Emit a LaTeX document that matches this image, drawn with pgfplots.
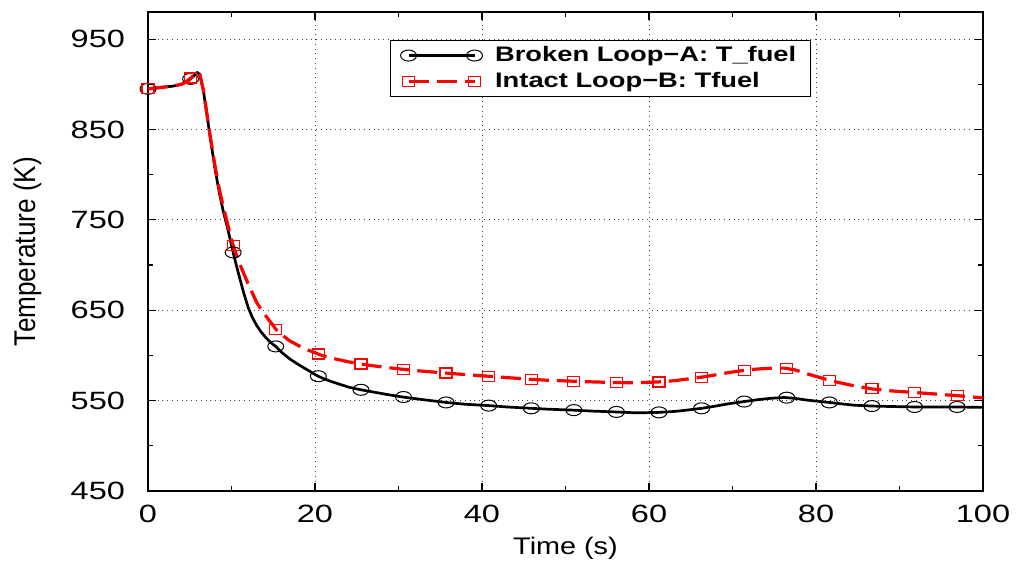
\documentclass[border=0pt]{standalone}
\usepackage{graphicx}
\usepackage{fontspec}
\setmainfont{Liberation Sans}
\usepackage{pgfplots}
\usepackage{pgfplotstable}
\pgfplotsset{compat=1.18}
\pgfplotsset{endmarks/.style={legend image code/.code={\draw[##1] plot coordinates {(0pt,0pt) (33pt,0pt)}; \path (40.5pt,0pt);}}}

\pgfplotstableread{
x y
0 895
1 896
2 897
3 898
4 900
4.5 902
5 905
5.5 909.5
5.9 913
6.2 911
6.6 895
7 870
7.5 838
8 808
8.5 782
9 760
9.5 742
10 722
10.2 714
10.6 699
11 685
11.5 668
12 653
12.5 642
13 633.5
13.5 626.5
14 621
14.5 616
15 612
15.3 610
16 603.5
17 596
18 590
19 584.5
20 579
20.4 577
21 574.5
22 571
23 568
24 565
25.5 562
27 559.5
28.5 557
30.5 554
33 551
35.7 548
38 546
40.8 544.5
43 543
45.9 541.5
48 540.5
50.9 539.5
53 538.5
56 537.5
58.5 536.5
61.2 537
63 538
64.5 539.5
66.3 541.5
68 544
69.5 546.5
71.4 549
73 551
74.5 552.5
76.2 553.5
77.5 552.5
79 550.5
80.5 549
81.6 548
83 546.5
84.5 545
86.7 544
89 543.5
91.8 543
94 543
96.8 543
100 542.5
}\blackline

\pgfplotstableread{
x y
0 895
1 896
2 897
3 898
4 900
4.5 902.5
5 906
5.5 910
5.9 913
6.2 911
6.6 895
7 871
7.5 840
8 811
8.5 786
9 765
9.5 747
10 728
10.2 722
10.6 711
11 701
11.5 690
12 679
12.5 669
13 659
13.6 650
14 645
14.5 639
15 633
15.3 629
16 623
17 616
18 611
19 606.5
20 603
20.4 601.5
21 599.5
22 597
23 595
24 593
25.5 590.5
27 588.5
28.5 586.8
30.6 584.6
33 582.5
35.7 580.5
38 578.8
40.8 577
43 575.5
45.9 573.5
48 572.5
50.9 571.5
53 570.8
56 570
58.5 569.8
61.2 570.7
63 572
64.5 573.8
66.3 576
68 578.5
69.5 581
71.4 583.5
73 585
74.5 585.8
76.2 586
77.5 584
79 579.5
80.5 575.5
81.6 572.5
83 569.5
84.5 566.5
86.7 563
89 560.8
91.8 559
94 557.5
96.8 555.6
100 553
}\redline

\pgfplotstableread{
x y
0 895
5.1 906
10.2 714
15.3 610
20.4 577
25.5 562
30.6 554
35.7 548
40.8 544.5
45.9 541.5
51 539.5
56.1 537.5
61.2 537
66.3 541.5
71.4 549
76.5 553.3
81.6 548
86.7 544
91.8 543
96.9 543
}\blackmarks

\pgfplotstableread{
x y
0 895
5.1 907
10.2 722
15.3 629
20.4 601.5
25.5 590.5
30.6 584.6
35.7 580.5
40.8 577
45.9 573.5
51 571.5
56.1 570
61.2 570.7
66.3 576
71.4 583.5
76.5 586
81.6 572.5
86.7 563
91.8 559
96.9 555.6
}\redmarks

\begin{document}
\begin{tikzpicture}
\path[use as bounding box] (-74pt,-36.5pt) rectangle (436pt,245.5pt);
\begin{axis}[
  at={(0,0)}, anchor=south west,
  scale only axis,
  width=417.5pt, height=239.5pt,
  xmin=0, xmax=100, ymin=450, ymax=980,
  xtick={0,20,...,100}, minor xtick={10,30,...,90},
  ytick={450,550,...,950}, minor ytick={500,600,...,900},
  tick align=inside,
  major tick length=4pt, minor tick length=2.5pt,
  xtick pos=both, ytick pos=both,
  grid=major,
  major grid style={dotted, black!75, line width=0.5pt},
  axis line style={line width=0.8pt},
  every tick/.style={black, line width=0.6pt},
  /pgf/number format/assume math mode=true,
  tick label style={font=\fontsize{12.5}{14}\selectfont},
  xticklabel={\scalebox{1.3}[1]{\pgfmathprintnumber{\tick}}},
  yticklabel={\scalebox{1.3}[1]{\pgfmathprintnumber{\tick}}},
  xticklabel style={yshift=-3.5pt},
  yticklabel style={xshift=-8pt},
  xlabel={\scalebox{1.2}[1]{Time (s)}},
  ylabel={\scalebox{1.09}[1.25]{Temperature (K)}},
  label style={font=\fontsize{12}{14}\selectfont},
  xlabel style={at={(rel axis cs:0.5,-0.119)}, anchor=center},
  ylabel style={at={(rel axis cs:-0.1437,0.5)}, anchor=center},
  clip=false,
  legend style={at={(rel axis cs:0.2898,0.9415)}, anchor=north west,
    draw=black, line width=0.6pt, fill=white,
    font=\bfseries\fontsize{10.5}{12}\selectfont,
    inner xsep=5pt, inner ysep=1pt, row sep=0pt,
    nodes={inner ysep=1.9pt},
    cells={anchor=west}},
  legend cell align=left,
]
\addplot[black, line width=1.35pt, forget plot] table[x=x,y=y] {\blackline};
\addplot[black, only marks, mark=o, mark size=2.75pt, mark options={solid, line width=0.5pt, xscale=1.45}, forget plot] table[x=x,y=y] {\blackmarks};
\addplot[red, line width=1.6pt, dash pattern=on 10pt off 4pt, forget plot] table[x=x,y=y] {\redline};
\addplot[red, only marks, mark=square, mark size=2.5pt, mark options={solid, line width=0.6pt, xscale=1.2}, forget plot] table[x=x,y=y] {\redmarks};

\addlegendimage{black, line width=1.35pt, mark=o, mark size=2.75pt, mark options={solid, line width=0.5pt, xscale=1.45}, endmarks}
\addlegendentry{\scalebox{1.3}[1]{Broken Loop−A: T\_fuel}}
\addlegendimage{red, line width=1.6pt, dash pattern=on 10pt off 4pt, mark=square, mark size=2.5pt, mark options={solid, line width=0.6pt, xscale=1.2}, endmarks}
\addlegendentry{\scalebox{1.3}[1]{Intact Loop−B: Tfuel}}
\end{axis}
\end{tikzpicture}
\end{document}
